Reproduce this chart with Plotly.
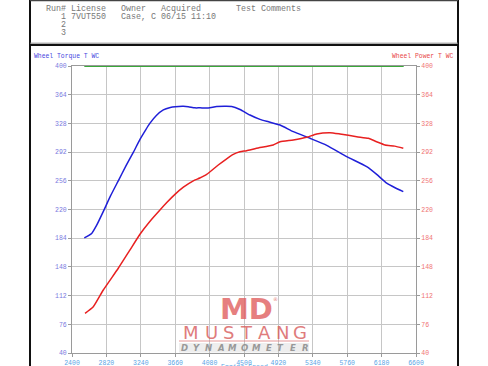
import plotly.graph_objects as go

# ---------------- data ----------------
rpm_torque = [2550, 2640, 2700, 2780, 2870, 2965, 3060, 3150, 3230, 3300, 3350, 3430, 3515, 3600,
              3660, 3760, 3820, 3900, 3963, 4064, 4166, 4260, 4350, 4451, 4573, 4695, 4800,
              4940, 5102, 5306, 5510, 5754, 5998, 6120, 6242, 6350, 6445]
torque = [184.5, 190, 200, 217, 237, 256, 275, 292, 308, 320, 328, 338, 345, 348,
          349, 349.5, 349, 347.5, 347.5, 347.3, 349.3, 349.5, 349.3, 345.5, 338.5, 333, 330,
          326, 317.6, 309.3, 300.5, 286.3, 273.7, 264, 253, 247, 242.4]

rpm_power = [2559, 2660, 2782, 2965, 3100, 3230, 3350, 3474, 3560, 3657, 3760, 3881, 3960,
             4044, 4186, 4280, 4369, 4451, 4532, 4653, 4857, 4940, 5102, 5265, 5387, 5550,
             5672, 5876, 6018, 6120, 6222, 6340, 6445]
power = [89.8, 98, 119, 146.3, 168, 189, 205, 219.4, 229, 239, 248, 256, 259.5,
         264, 275.8, 283, 289.2, 292.5, 293.8, 296.8, 300.9, 305, 307.2, 310.5, 314.7, 316.3,
         314.7, 311.3, 309.3, 305, 301, 299.5, 296.8]

rpm_green = [2550, 6450]
green_val = [400, 400]

x_ticks = [2400, 2820, 3240, 3660, 4080, 4500, 4920, 5340, 5760, 6180, 6600]
y_ticks = [40, 76, 112, 148, 184, 220, 256, 292, 328, 364, 400]

header_lines = [
    "Run# License   Owner   Acquired       Test Comments",
    "   1 7VUT550   Case, C 06/15 11:10",
    "   2",
    "   3",
]
left_title = "Wheel Torque T WC"
right_title = "Wheel Power T WC"
x_title = "Engine Speed"
logo_md = "MD"
logo_word = "MUSTANG"
logo_sub = "DYNAMOMETER"

# ---------------- layout helpers ----------------
W, H = 488, 366
L, R, T, B = 72, 416, 66, 353


def px(x):
    return (x - L) / (R - L)


def py(y):
    return (B - y) / (B - T)


mono = "Liberation Mono, Courier New, monospace"

fig = go.Figure()
fig.add_trace(go.Scatter(x=rpm_green, y=green_val, mode="lines",
                         line=dict(color="#3aa83a", width=2), cliponaxis=False,
                         hoverinfo="skip", showlegend=False))
fig.add_trace(go.Scatter(x=rpm_torque, y=torque, mode="lines",
                         line=dict(color="#1f1fd8", width=1.5, shape="spline", smoothing=0.5),
                         showlegend=False))
fig.add_trace(go.Scatter(x=rpm_power, y=power, mode="lines", yaxis="y2",
                         line=dict(color="#e82020", width=1.5, shape="spline", smoothing=0.5),
                         showlegend=False))

axis_common = dict(showgrid=True, gridcolor="#c6c6c6", gridwidth=1, zeroline=False,
                   showline=True, linecolor="#9a9a9a", linewidth=1, automargin=False,
                   ticks="outside", ticklen=3, tickcolor="#9a9a9a")

fig.update_layout(
    width=W, height=H,
    margin=dict(l=L, r=W - R, t=T, b=H - B, pad=0, autoexpand=False),
    paper_bgcolor="white", plot_bgcolor="white",
    xaxis=dict(range=[2400, 6600], tickvals=x_ticks, mirror=True,
               tickfont=dict(family=mono, size=6.5, color="#5aa5e6"), **axis_common),
    yaxis=dict(range=[40, 400], tickvals=y_ticks,
               tickfont=dict(family=mono, size=6.5, color="#7a7ae0"), **axis_common),
    yaxis2=dict(range=[40, 400], tickvals=y_ticks, overlaying="y", side="right",
                showgrid=False, zeroline=False, showline=True, linecolor="#9a9a9a",
                automargin=False, ticks="outside", ticklen=3, tickcolor="#9a9a9a",
                tickfont=dict(family=mono, size=6.5, color="#f07474")),
)

anns = []
# header block
for i, line in enumerate(header_lines):
    anns.append(dict(x=px(44), y=py(9 + 8.1 * i), xref="paper", yref="paper",
                     text=line.replace(" ", "&nbsp;"), showarrow=False,
                     xanchor="left", yanchor="middle",
                     font=dict(family=mono, size=8.33, color="#777777")))
# axis titles
anns.append(dict(x=px(32), y=py(56.7), xref="paper", yref="paper", text=left_title,
                 showarrow=False, xanchor="left", yanchor="middle",
                 font=dict(family=mono, size=6.4, color="#4848e0")))
anns.append(dict(x=px(456), y=py(56.7), xref="paper", yref="paper", text=right_title,
                 showarrow=False, xanchor="right", yanchor="middle",
                 font=dict(family=mono, size=6.4, color="#e84848")))
anns.append(dict(x=px(244), y=py(367), xref="paper", yref="paper", text=x_title,
                 showarrow=False, xanchor="center", yanchor="middle",
                 font=dict(family=mono, size=6.5, color="#5aa5e6")))

# watermark logo
anns.append(dict(x=px(246.5), y=py(309), xref="paper", yref="paper", text="<b>" + logo_md + "</b>",
                 showarrow=False, xanchor="center", yanchor="middle", opacity=0.8,
                 font=dict(family="DejaVu Sans", size=29, color="#e06060")))
anns.append(dict(x=px(275), y=py(299), xref="paper", yref="paper", text="®",
                 showarrow=False, xanchor="center", yanchor="middle", opacity=0.8,
                 font=dict(family="DejaVu Sans", size=5, color="#e06060")))
word_cx = [191, 211, 228.5, 246, 264, 282.5, 300]
for ch, cx in zip(logo_word, word_cx):
    anns.append(dict(x=px(cx), y=py(332.5), xref="paper", yref="paper", text=ch,
                     showarrow=False, xanchor="center", yanchor="middle", opacity=0.8,
                     font=dict(family="DejaVu Sans", size=18, color="#d85c5c")))
for i, ch in enumerate(logo_sub):
    cx = 184.5 + i * 12.05
    anns.append(dict(x=px(cx), y=py(347.5), xref="paper", yref="paper", text="<b><i>" + ch + "</i></b>",
                     showarrow=False, xanchor="center", yanchor="middle", opacity=0.85,
                     font=dict(family="DejaVu Sans", size=8.5, color="#8a8a8a")))

shapes = [
    # logo underline + band
    dict(type="line", xref="paper", yref="paper", x0=px(179), x1=px(309), y0=py(341), y1=py(341),
         line=dict(color="#e08080", width=1.2), opacity=0.8),
    dict(type="rect", xref="paper", yref="paper", x0=px(179), x1=px(309), y0=py(343), y1=py(352.5),
         fillcolor="#e2e2e2", line=dict(width=0), opacity=0.6, layer="below"),
    # frame
    dict(type="line", xref="paper", yref="paper", x0=px(30), x1=px(30), y0=py(0), y1=py(366),
         line=dict(color="#111111", width=2)),
    dict(type="line", xref="paper", yref="paper", x0=px(458), x1=px(458), y0=py(0), y1=py(366),
         line=dict(color="#111111", width=2)),
    dict(type="line", xref="paper", yref="paper", x0=px(30), x1=px(458), y0=py(0.5), y1=py(0.5),
         line=dict(color="#444444", width=1.5)),
    dict(type="line", xref="paper", yref="paper", x0=px(30), x1=px(458), y0=py(43.2), y1=py(43.2),
         line=dict(color="#888888", width=1)),
    dict(type="line", xref="paper", yref="paper", x0=px(30), x1=px(458), y0=py(45), y1=py(45),
         line=dict(color="#111111", width=2)),
]

fig.update_layout(annotations=anns, shapes=shapes)
fig.write_html("out.html")
